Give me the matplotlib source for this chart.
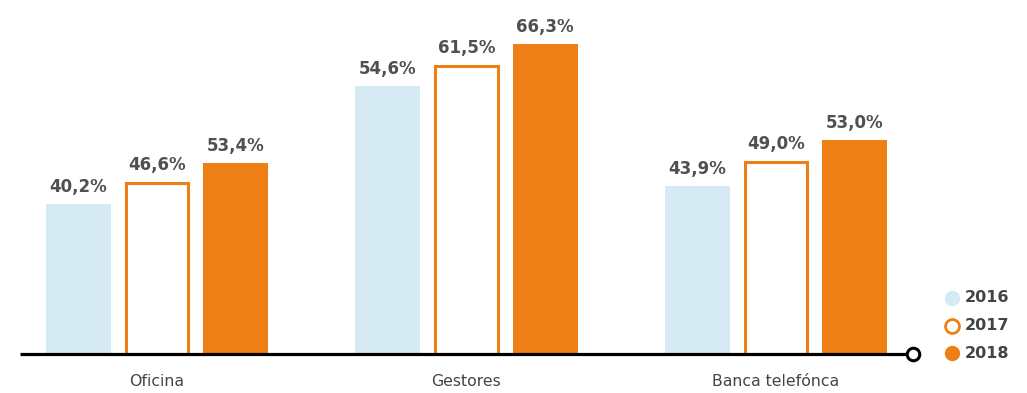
import matplotlib
matplotlib.use("Agg")
import matplotlib.pyplot as plt
import numpy as np

categories = ["Oficina", "Gestores", "Banca telefónca"]
years = ["2016", "2017", "2018"]
# labelled values (%)
values_2016 = [40.2, 54.6, 43.9]
values_2017 = [46.6, 61.5, 49.0]
values_2018 = [53.4, 66.3, 53.0]
# drawn bar heights (the original's bars are not to scale)
heights_2016 = [32.1, 57.3, 35.9]
heights_2017 = [36.8, 61.8, 41.3]
heights_2018 = [40.8, 66.3, 45.8]

light_blue = "#d5eaf2"
orange = "#ee7f16"
text_col = "#505050"

fig = plt.figure(figsize=(10.27, 3.93), dpi=100)
ax = fig.add_axes([0, 0, 1, 1])
ax.set_axis_off()

unit = 309.5  # px per group
c0 = 157
px_per_val = 310 / 66.3
ax.set_xlim(-c0 / unit, (1027 - c0) / unit)
ax.set_ylim(-39 / px_per_val, 354 / px_per_val)

x = np.arange(len(categories))
off = 78.5 / unit
w = 65 / unit

series = [
    (heights_2016, values_2016, dict(color=light_blue, edgecolor="none")),
    (heights_2017, values_2017, dict(facecolor="white", edgecolor=orange, linewidth=2.2)),
    (heights_2018, values_2018, dict(color=orange, edgecolor="none")),
]
for i, (h, v, style) in enumerate(series):
    xs = x + (i - 1) * off
    if i == 1:
        ax.bar(xs, [hh - 1.1 / px_per_val for hh in h], width=w - 2.2 / unit,
               zorder=2, **style)
    else:
        ax.bar(xs, h, width=w, zorder=2, **style)
    for xi, hi, vi in zip(xs, h, v):
        ax.text(xi, hi + 8 / px_per_val, f"{vi:.1f}%".replace(".", ","),
                ha="center", va="bottom", fontsize=12, fontweight="bold",
                color=text_col, zorder=4)

# baseline axis with open-circle end
x0 = (20 - c0) / unit
x1 = (913 - c0) / unit
ax.plot([x0, x1], [0, 0], color="black", linewidth=2.3, zorder=3, solid_capstyle="butt")
ax.plot([x1], [0], marker="o", markersize=9, markerfacecolor="white",
        markeredgecolor="black", markeredgewidth=2.2, zorder=5, clip_on=False)

for xi, c in zip(x, categories):
    ax.text(xi, -27 / px_per_val, c, ha="center", va="center",
            fontsize=11.3, color="#444444")

# legend
lx = (952 - c0) / unit
ltx = (965 - c0) / unit
legend_y = [354 - 298, 354 - 326, 354 - 353]
legend_styles = [
    dict(markerfacecolor=light_blue, markeredgecolor=light_blue),
    dict(markerfacecolor="white", markeredgecolor=orange, markeredgewidth=2),
    dict(markerfacecolor=orange, markeredgecolor=orange),
]
for yv, lab, st in zip(legend_y, years, legend_styles):
    ax.plot([lx], [yv / px_per_val], marker="o", markersize=10, linestyle="none",
            clip_on=False, **st)
    ax.text(ltx, yv / px_per_val, lab, ha="left", va="center", fontsize=11.5,
            fontweight="bold", color="#444444")

fig.savefig("out.png", dpi=100)
